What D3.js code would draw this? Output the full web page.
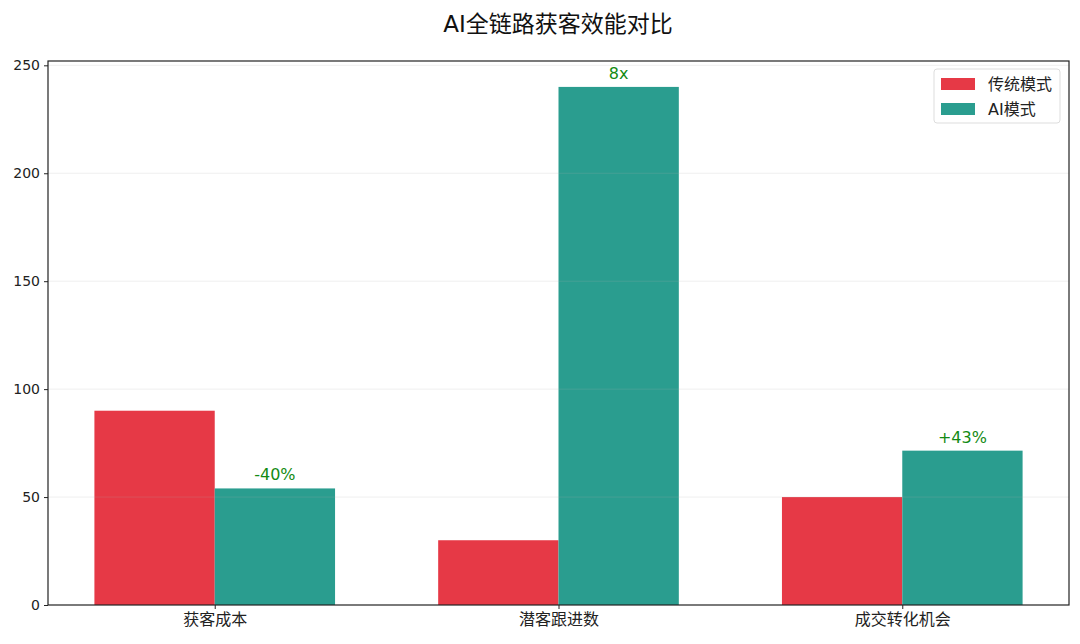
<!DOCTYPE html>
<html>
<head>
<meta charset="utf-8">
<script src="https://cdn.jsdelivr.net/npm/d3@7"></script>
<style>
  html, body { margin: 0; padding: 0; background: #fff; }
  svg text { font-family: "DejaVu Sans", "Noto Sans CJK SC", sans-serif; }
</style>
</head>
<body>
<svg id="chart" width="1080" height="644"></svg>
<script>
// chart data
const categories = ['获客成本', '潜客跟进数', '成交转化机会'];
const seriesNames = ['传统模式', 'AI模式'];
const traditional = [90, 30, 50];
const aiMode = [54, 240, 71.5];
const changeLabels = ['-40%', '8x', '+43%'];
const yTicks = [0, 50, 100, 150, 200, 250];

const colors = ['#e63946', '#2a9d8f'];
const W = 1080, H = 644;
const margin = { top: 61, right: 11, bottom: 39, left: 48 };
const iw = W - margin.left - margin.right, ih = H - margin.top - margin.bottom;
const barW = 0.35;

const svg = d3.select('#chart');
svg.append('text').attr('x', W / 2 + 18).attr('y', 32).attr('text-anchor', 'middle')
    .attr('font-size', 23).attr('fill', '#111').text('AI全链路获客效能对比');

const g = svg.append('g').attr('transform', `translate(${margin.left},${margin.top})`);

// linear x like matplotlib: bars span [-0.35, 2.35], 5% margins
const x = d3.scaleLinear().domain([-0.485, 2.485]).range([0, iw]);
const y = d3.scaleLinear().domain([0, 252]).range([ih, 0]);

// bars
const series = [traditional, aiMode];
series.forEach((vals, s) => {
    g.append('g').selectAll('rect').data(vals).join('rect')
        .attr('x', (d, i) => x(i + (s === 0 ? -barW : 0)))
        .attr('width', x(barW) - x(0))
        .attr('y', d => y(d))
        .attr('height', d => y(0) - y(d))
        .attr('fill', colors[s]);
});

// grid on top, very faint
g.append('g').selectAll('line').data(yTicks.slice(1)).join('line')
    .attr('x1', 0).attr('x2', iw).attr('y1', d => y(d)).attr('y2', d => y(d))
    .attr('stroke', '#b0b0b0').attr('stroke-opacity', 0.25).attr('stroke-width', 0.8);

// change labels above AI bars
g.append('g').selectAll('text').data(aiMode).join('text')
    .attr('x', (d, i) => x(i + barW / 2))
    .attr('y', d => y(d) - 8)
    .attr('text-anchor', 'middle').attr('font-size', 16).attr('fill', '#138a13')
    .text((d, i) => changeLabels[i]);

// axes
const yAxis = g.append('g').call(d3.axisLeft(y).tickValues(yTicks).tickSize(4).tickPadding(4));
const xAxis = g.append('g').attr('transform', `translate(0,${ih})`)
    .call(d3.axisBottom(x).tickValues([0, 1, 2]).tickFormat(i => categories[i]).tickSize(4).tickPadding(5));
[yAxis, xAxis].forEach(a => {
    a.select('.domain').remove();
    a.selectAll('line').attr('stroke', '#222');
    a.selectAll('text').attr('font-size', 14).attr('fill', '#222');
});
xAxis.selectAll('text').attr('font-size', 16);

// frame
g.append('rect').attr('width', iw).attr('height', ih)
    .attr('fill', 'none').attr('stroke', '#222').attr('stroke-width', 1.2);

// legend
const lg = g.append('g').attr('transform', `translate(${934 - margin.left},${69 - margin.top})`);
lg.append('rect').attr('width', 126).attr('height', 54).attr('rx', 3)
    .attr('fill', '#fff').attr('fill-opacity', 0.85).attr('stroke', '#ddd');
seriesNames.forEach((n, i) => {
    lg.append('rect').attr('x', 7).attr('y', 9 + i * 25).attr('width', 34).attr('height', 12)
        .attr('fill', colors[i]);
    lg.append('text').attr('x', 54).attr('y', 21 + i * 25).attr('font-size', 16)
        .attr('fill', '#222').text(n);
});
</script>
</body>
</html>
